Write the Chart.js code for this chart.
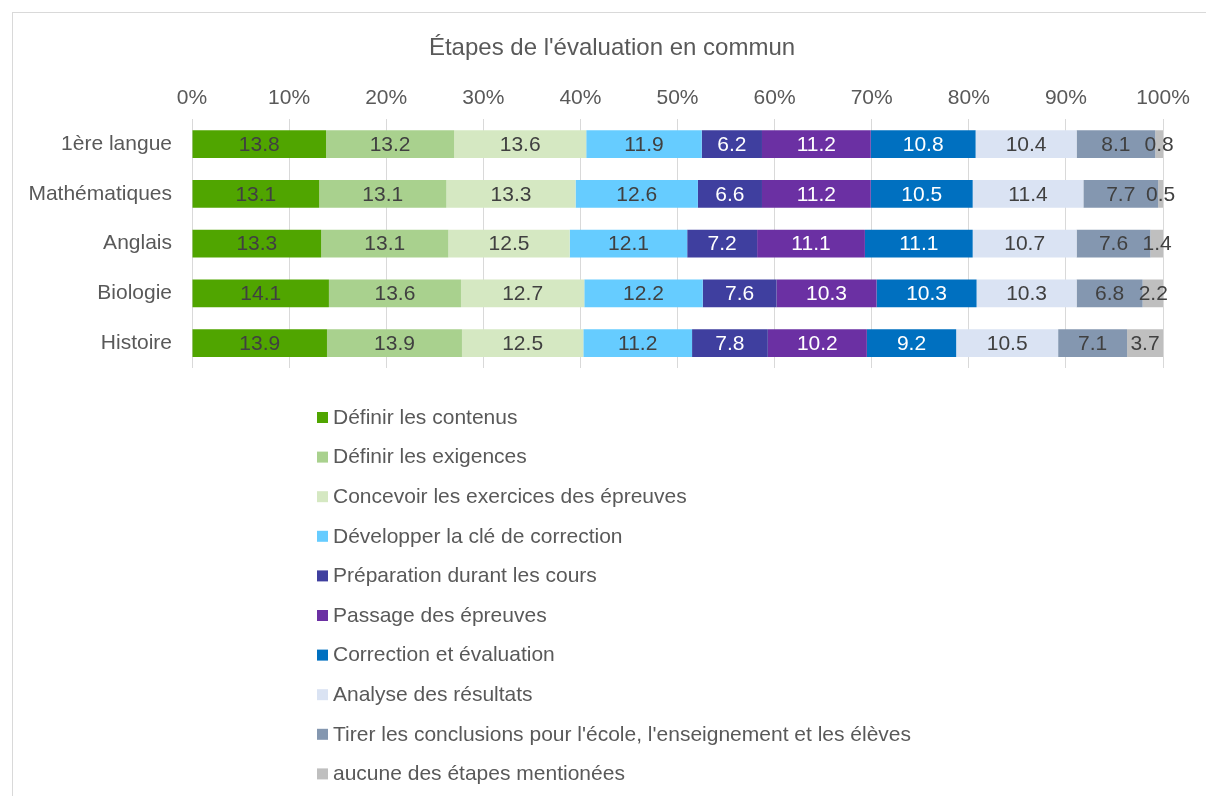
<!DOCTYPE html>
<html>
<head>
<meta charset="utf-8">
<script src="https://cdn.jsdelivr.net/npm/chart.js@4/dist/chart.umd.min.js"></script>
<style>
  html, body { margin: 0; padding: 0; background: #fff; }
  #frame { position: absolute; left: 12px; top: 12px; width: 1194px; height: 784px; box-sizing: border-box;
           border-top: 1px solid #d9d9d9; border-left: 1px solid #d9d9d9; }
  #wrap { position: absolute; left: 0; top: 0; width: 1206px; height: 796px; }
</style>
</head>
<body>
<div id="frame"></div>
<div id="wrap"><canvas id="chart" width="1206" height="796"></canvas></div>
<script>
const titre = "Étapes de l'évaluation en commun";
const categories = ['1ère langue', 'Mathématiques', 'Anglais', 'Biologie', 'Histoire'];

const etapes = [
  'Définir les contenus',
  'Définir les exigences',
  'Concevoir les exercices des épreuves',
  'Développer la clé de correction',
  'Préparation durant les cours',
  'Passage des épreuves',
  'Correction et évaluation',
  'Analyse des résultats',
  "Tirer les conclusions pour l'école, l'enseignement et les élèves",
  'aucune des étapes mentionées'
];

const definirContenus      = [13.8, 13.1, 13.3, 14.1, 13.9];
const definirExigences     = [13.2, 13.1, 13.1, 13.6, 13.9];
const concevoirExercices   = [13.6, 13.3, 12.5, 12.7, 12.5];
const developperCle        = [11.9, 12.6, 12.1, 12.2, 11.2];
const preparationCours     = [6.2, 6.6, 7.2, 7.6, 7.8];
const passageEpreuves      = [11.2, 11.2, 11.1, 10.3, 10.2];
const correctionEvaluation = [10.8, 10.5, 11.1, 10.3, 9.2];
const analyseResultats     = [10.4, 11.4, 10.7, 10.3, 10.5];
const tirerConclusions     = [8.1, 7.7, 7.6, 6.8, 7.1];
const aucuneEtape          = [0.8, 0.5, 1.4, 2.2, 3.7];

const series = [definirContenus, definirExigences, concevoirExercices, developperCle, preparationCours,
                passageEpreuves, correctionEvaluation, analyseResultats, tirerConclusions, aucuneEtape];

const couleurs = ['#50a500', '#a9d18e', '#d5e8c2', '#66ccff', '#3f3f9f',
                  '#6b30a3', '#0070c0', '#dae3f3', '#8497b0', '#bfbfbf'];
// étiquettes blanches sur les segments foncés
const labelBlanc = [false, false, false, false, true, true, true, false, false, false];

const TXT = '#595959';
const FONT = '"Liberation Sans", Arial, sans-serif';
Chart.defaults.font.family = FONT;

// valeurs au centre de chaque segment
const etiquettes = {
  id: 'etiquettes',
  afterDatasetsDraw(chart) {
    const ctx = chart.ctx;
    ctx.save();
    ctx.font = '21px ' + FONT;
    ctx.textAlign = 'center';
    ctx.textBaseline = 'middle';
    chart.data.datasets.forEach((ds, i) => {
      const meta = chart.getDatasetMeta(i);
      ctx.fillStyle = labelBlanc[i] ? '#ffffff' : '#404040';
      meta.data.forEach((bar, j) => {
        const p = bar.getProps(['x', 'y', 'base'], true);
        ctx.fillText(ds.data[j].toFixed(1), (p.x + p.base) / 2, p.y + 1);
      });
    });
    ctx.restore();
  }
};

// titre centré sur le cadre entier, et légende sur une seule colonne
const titreEtLegende = {
  id: 'titreEtLegende',
  afterDraw(chart) {
    const ctx = chart.ctx;
    ctx.save();
    ctx.fillStyle = TXT;
    ctx.font = '24px ' + FONT;
    ctx.textAlign = 'center';
    ctx.textBaseline = 'middle';
    ctx.fillText(titre, 612, 48);

    ctx.font = '21px ' + FONT;
    ctx.textAlign = 'left';
    etapes.forEach((nom, i) => {
      const y = 417 + i * 39.6;
      ctx.fillStyle = couleurs[i];
      ctx.fillRect(317, y - 5, 11, 11);
      ctx.fillStyle = TXT;
      ctx.fillText(nom, 333, y + 1);
    });
    ctx.restore();
  }
};

new Chart(document.getElementById('chart'), {
  type: 'bar',
  data: {
    labels: categories,
    datasets: series.map((d, i) => ({
      label: etapes[i],
      data: d,
      backgroundColor: couleurs[i],
      borderWidth: 0,
      barPercentage: 0.56,
      categoryPercentage: 1
    }))
  },
  options: {
    indexAxis: 'y',
    responsive: false,
    animation: false,
    layout: { padding: { top: 78, left: 0, right: 43, bottom: 428 } },
    plugins: {
      legend: { display: false },
      tooltip: { enabled: false },
      title: { display: false }
    },
    scales: {
      x: {
        position: 'top', stacked: true, min: 0, max: 100,
        ticks: { stepSize: 10, color: TXT, font: { size: 21 }, padding: 8, callback: v => v + '%' },
        grid: { color: '#d9d9d9', lineWidth: 1, drawTicks: false },
        border: { display: false }
      },
      y: {
        stacked: true,
        ticks: { color: TXT, font: { size: 21 }, padding: 20 },
        grid: { display: false, drawTicks: false },
        border: { display: false },
        afterFit: s => { s.width = 192; }
      }
    }
  },
  plugins: [etiquettes, titreEtLegende]
});
</script>
</body>
</html>
